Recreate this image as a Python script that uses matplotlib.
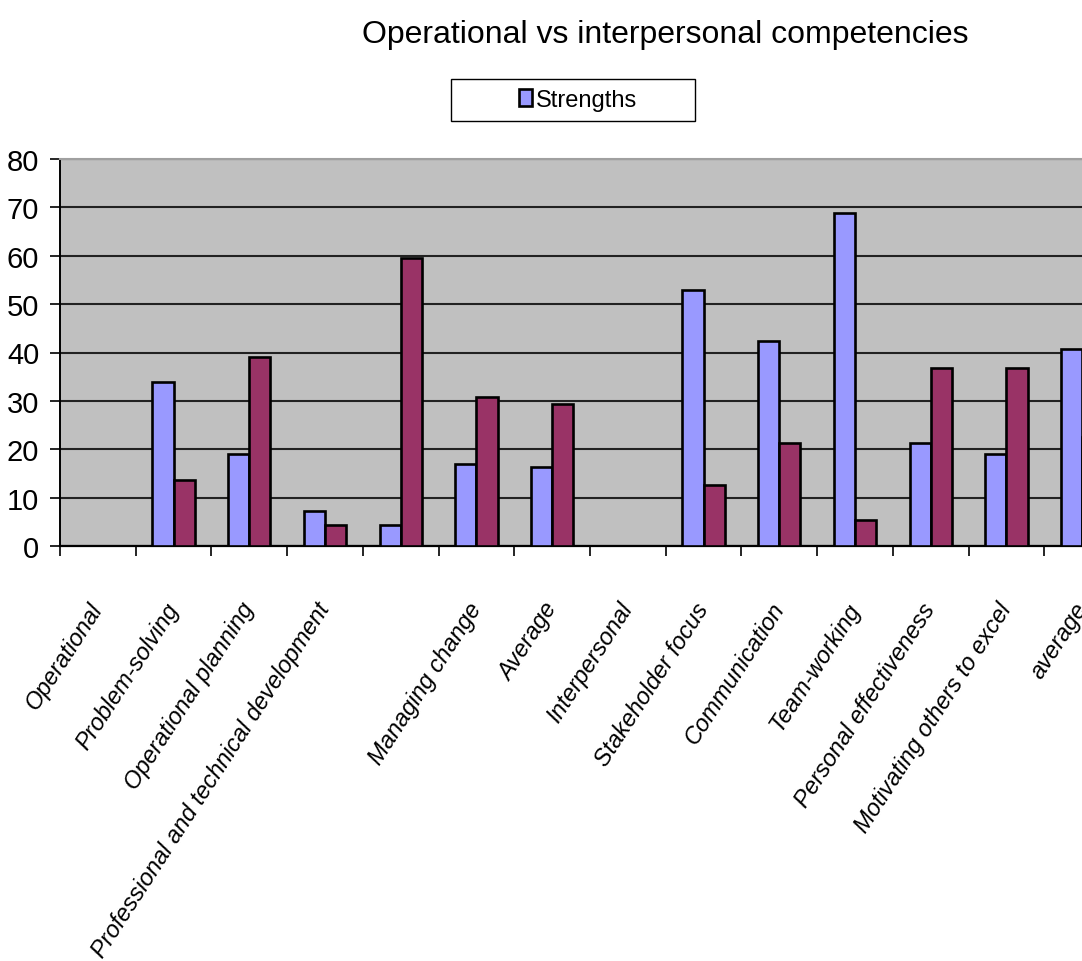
import matplotlib
matplotlib.use("Agg")
import matplotlib.pyplot as plt
from matplotlib.patches import Rectangle

# category names along the x axis (one slot has no label)
categories = ["Operational", "Problem-solving", "Operational planning",
              "Professional and technical development", "",
              "Managing change", "Average", "Interpersonal",
              "Stakeholder focus", "Communication", "Team-working",
              "Personal effectiveness", "Motivating others to excel",
              "average"]

strengths = [0, 34, 19, 7.2, 4.3, 17, 16.3, 0, 53, 42.3, 68.9, 21.3, 19, 40.8]
second_series = [0, 13.6, 39, 4.3, 59.6, 30.7, 29.3, 0, 12.6, 21.3, 5.4, 36.8, 36.8, 22.6]

plt.rcParams["font.family"] = ["Liberation Sans", "DejaVu Sans"]

W, H = 1082, 962
fig = plt.figure(figsize=(W / 100, H / 100), dpi=100)

# plot area runs past the right edge of the figure
left, right, top, bottom = 60, 1120, 160, 547
ax = fig.add_axes([left / W, 1 - bottom / H, (right - left) / W, (bottom - top) / H])
ax.set_facecolor("#C0C0C0")

x = list(range(len(categories)))
bw = 0.28
ax.bar([i - bw / 2 for i in x], strengths, bw, color="#9999FF",
       edgecolor="black", linewidth=1.9, zorder=3, label="Strengths")
ax.bar([i + bw / 2 for i in x], second_series, bw, color="#993366",
       edgecolor="black", linewidth=1.9, zorder=3)

ax.set_xlim(-0.5, len(categories) - 0.5)
ax.set_ylim(0, 80)
ax.set_yticks(range(0, 81, 10))
ax.yaxis.grid(True, color="#222222", linewidth=1.5, zorder=1)
ax.set_axisbelow(True)

# category separators as major ticks, names on minor ticks at the centres
ax.set_xticks([i - 0.5 for i in x], minor=False)
ax.set_xticklabels([])
ax.set_xticks(x, minor=True)
ax.set_xticklabels(categories, minor=True, rotation=57, ha="right",
                   va="center", rotation_mode="anchor", style="italic",
                   fontsize=17)
ax.tick_params(axis="x", which="minor", length=0, pad=42)
ax.tick_params(axis="x", which="major", direction="out", length=7,
               width=1.2, color="black")
ax.tick_params(axis="y", direction="out", length=7, width=1.2,
               labelsize=21, pad=8)

ax.spines["left"].set_color("black")
ax.spines["left"].set_linewidth(1.4)
ax.spines["bottom"].set_color("black")
ax.spines["bottom"].set_linewidth(1.6)
ax.spines["top"].set_color("#A0A0A0")
ax.spines["top"].set_linewidth(1.5)
ax.spines["right"].set_visible(False)

fig.text(665 / W, 1 - 35 / H, "Operational vs interpersonal competencies",
         ha="center", va="center", fontsize=23)

# legend box with the single entry centred inside it
fig.patches.append(Rectangle((451 / W, 1 - 122 / H), 244 / W, 42 / H,
                             transform=fig.transFigure, facecolor="white",
                             edgecolor="black", linewidth=1.0))
handles, labels = ax.get_legend_handles_labels()
fig.legend(handles, labels, loc="center", bbox_to_anchor=(578 / W, 1 - 101 / H),
           frameon=False, fontsize=17, handlelength=0.55, handleheight=0.7,
           handletextpad=0.2, borderpad=0)

fig.savefig("out.png", dpi=100)
